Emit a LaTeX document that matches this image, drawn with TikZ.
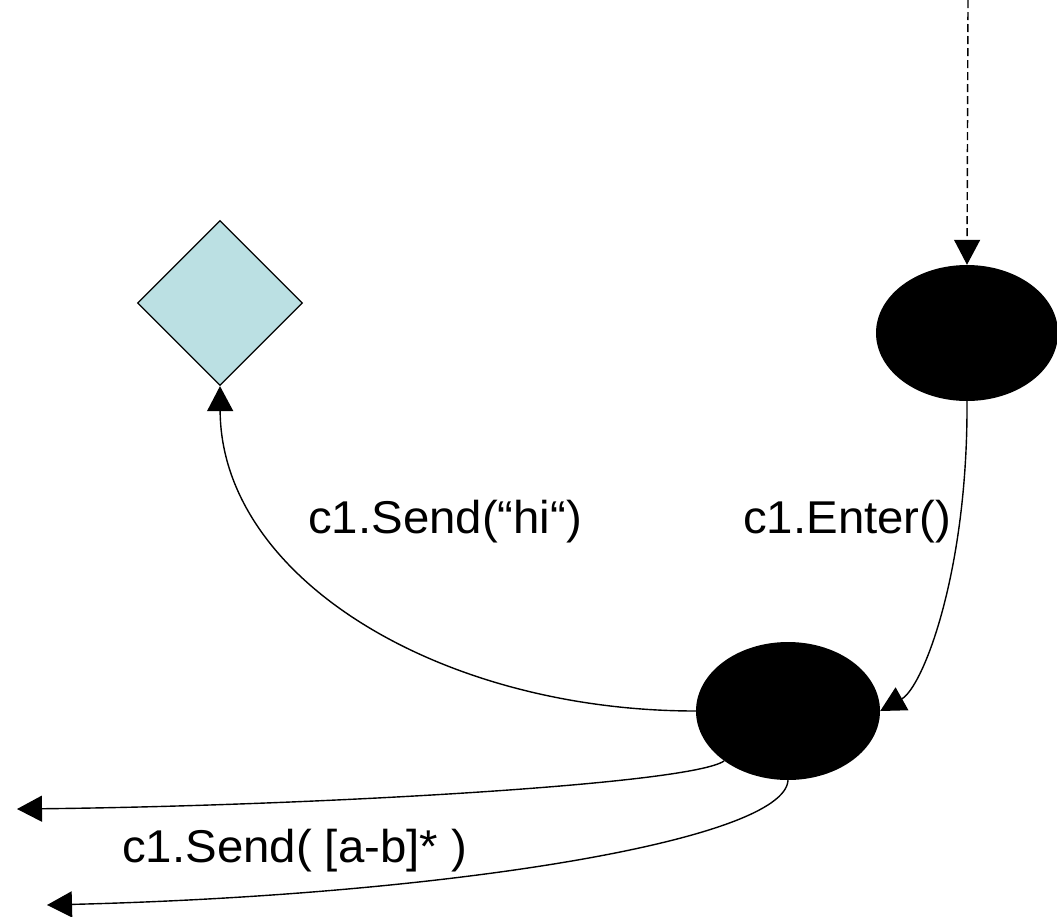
\documentclass[tikz,border=0pt]{standalone}
\usepackage{fontspec}
\setmainfont{Liberation Sans}
\usetikzlibrary{shapes.geometric,arrows.meta}
\definecolor{paleteal}{RGB}{187,224,227}
\tikzset{
  state/.style={ellipse, fill=black, draw=none, inner sep=0pt},
  choice/.style={diamond, draw=black, line width=1.2pt, fill=paleteal, aspect=1, inner sep=0pt},
  flow/.style={line width=1.4pt, -{Triangle[length=25pt,width=26pt]}},
  lbl/.style={font=\fontsize{46}{55}\selectfont, anchor=base west, inner sep=0pt, xscale=1.03}
}
\begin{document}
\begin{tikzpicture}[x=1pt,y=-1pt]
  \useasboundingbox (0,0) rectangle (1057,916);

  % states
  \node[state, minimum width=182pt, minimum height=136pt] (top) at (967,333) {};
  \node[state, minimum width=184pt, minimum height=138pt] (bot) at (788,711) {};
  \node[choice, minimum width=165pt, minimum height=165pt] (dia) at (220,303) {};

  % free ends
  \coordinate (entry) at (968,0);
  \coordinate (out1) at (17,809);
  \coordinate (out2) at (47,905);

  % incoming dashed edge
  \draw[flow, dash pattern=on 8pt off 4pt] (entry) -- (top.north);

  % transitions
  \draw[flow] (top.south) .. controls (968,572) and (923,687) .. (bot.east);
  \draw[flow] (bot.west) .. controls (440,711) and (221,578) .. (dia.south);
  \draw[flow] (bot.218) .. controls (690,785) and (300,806) .. (out1);
  \draw[flow] (bot.south) .. controls (785,840) and (450,895) .. (out2);

  % labels
  \node[lbl] (l1) at (308,533) {c1.Send(“hi“)};
  \node[lbl] (l2) at (743,533) {c1.Enter()};
  \node[lbl] (l3) at (122,862) {c1.Send( [a-b]* )};
\end{tikzpicture}
\end{document}
